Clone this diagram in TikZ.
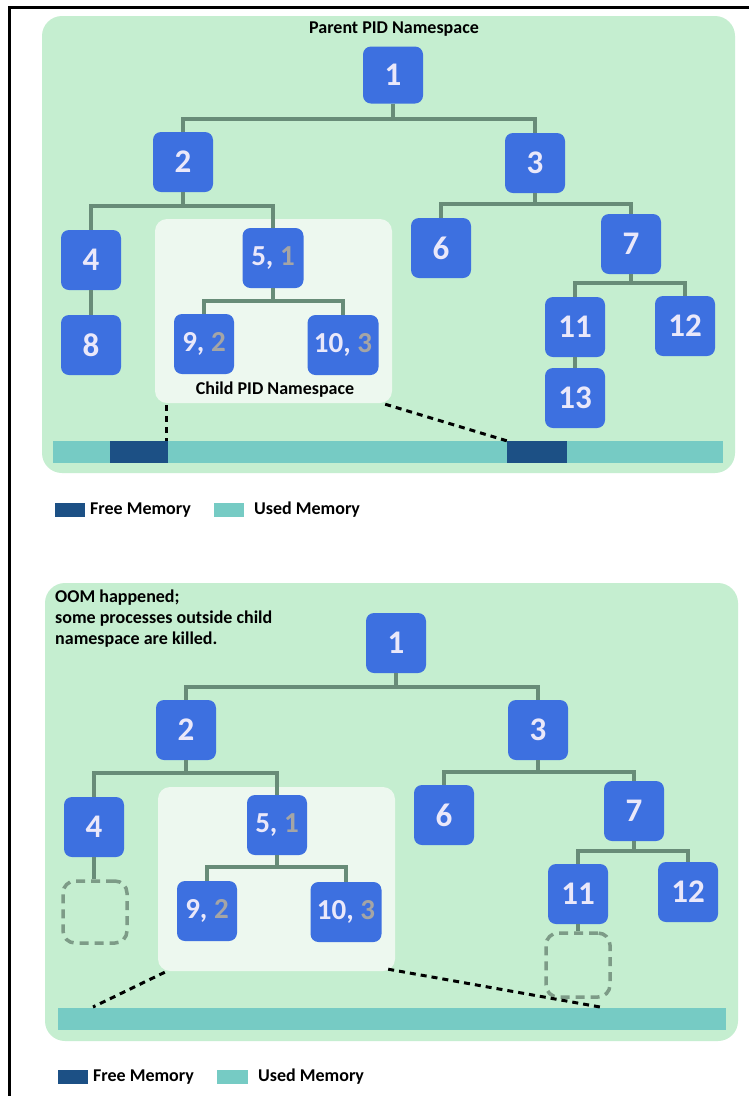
\documentclass[tikz,border=0pt]{standalone}
\usepackage{fontspec}
\setmainfont{Carlito}
\definecolor{panelgreen}{RGB}{197,238,208}
\definecolor{childfill}{RGB}{237,248,239}
\definecolor{nodeblue}{RGB}{61,112,224}
\definecolor{nodetext}{RGB}{234,232,250}
\definecolor{greynum}{RGB}{165,165,165}
\definecolor{conncol}{RGB}{104,140,120}
\definecolor{ghostcol}{RGB}{125,155,135}
\definecolor{usedmem}{RGB}{118,203,196}
\definecolor{freemem}{RGB}{28,80,133}
\tikzset{
  panel/.style={fill=panelgreen, rounded corners=20pt},
  childbox/.style={fill=childfill, rounded corners=12pt, inner sep=0pt},
  pnode/.style={fill=nodeblue, rounded corners=8pt, minimum width=60pt, minimum height=60pt, inner sep=0pt, text=nodetext, font=\bfseries\fontsize{33}{33}\selectfont},
  pairnode/.style={pnode, font=\bfseries\fontsize{29}{29}\selectfont},
  conn/.style={draw=conncol, line width=4pt},
  ghost/.style={draw=ghostcol, line width=3.5pt, dash pattern=on 9pt off 6pt, rounded corners=12pt, minimum width=61pt, minimum height=61pt, inner sep=0pt},
  blk/.style={line width=3pt, dash pattern=on 6pt off 5pt},
  lbl/.style={font=\bfseries\fontsize{18}{21}\selectfont, inner sep=0pt},
  membar/.style={fill=usedmem, inner sep=0pt, minimum height=22pt},
  freeblk/.style={fill=freemem, inner sep=0pt, minimum height=22pt},
  swatch/.style={inner sep=0pt, minimum width=30pt, minimum height=14pt},
}
\newcommand{\gr}[1]{\textcolor{greynum}{#1}}
\begin{document}
\begin{tikzpicture}[x=1pt,y=-1pt]
\useasboundingbox (0,0) rectangle (749,1096);
\fill[white] (0,0) rectangle (749,1096);
\draw[line width=3pt] (9,1096) -- (9,7) -- (749,7);

% ================= TOP PANEL =================
\fill[panel] (42,16) rectangle (735,473);
\node[lbl] (ptitle) at (394,29) {Parent PID Namespace};
\node[childbox, minimum width=237pt, minimum height=184pt] (cb1) at (273.5,311) {};
\node[lbl] (clabel1) at (275,390) {Child PID Namespace};

\node[pnode, minimum height=57pt] (t1) at (393,75) {1};
\node[pnode] (t2) at (183,162) {2};
\node[pnode] (t3) at (535,163) {3};
\node[pnode] (t4) at (91,260) {4};
\node[pnode] (t8) at (91,345) {8};
\node[pairnode, minimum width=61pt] (t5) at (273,258) {5, \gr{1}};
\node[pairnode] (t9) at (204,344) {9, \gr{2}};
\node[pairnode, minimum width=71pt] (t10) at (343,345) {10, \gr{3}};
\node[pnode] (t6) at (441,248) {6};
\node[pnode] (t7) at (631,244) {7};
\node[pnode] (t11) at (575,327) {11};
\node[pnode] (t12) at (685,326) {12};
\node[pnode] (t13) at (575,398) {13};

\coordinate (tj1) at (393,119);
\coordinate (tj2) at (183,206);
\coordinate (tj3) at (535,204);
\coordinate (tj5) at (273,301);
\coordinate (tj7) at (631,283);
\draw[conn] (t1.south) -- (tj1);
\draw[conn] (t2.north) |- (tj1) -| (t3.north);
\draw[conn] (t2.south) -- (tj2);
\draw[conn] (t4.north) |- (tj2) -| (t5.north);
\draw[conn] (t4.south) -- (t8.north);
\draw[conn] (t3.south) -- (tj3);
\draw[conn] (t6.north) |- (tj3) -| (t7.north);
\draw[conn] (t5.south) -- (tj5);
\draw[conn] (t9.north) |- (tj5) -| (t10.north);
\draw[conn] (t7.south) -- (tj7);
\draw[conn] (t11.north) |- (tj7) -| (t12.north);
\draw[conn] (t11.south) -- (t13.north);

\node[membar, minimum width=670pt] (mem1) at (388,452) {};
\node[freeblk, minimum width=58pt] (fb1) at (139,452) {};
\node[freeblk, minimum width=60pt] (fb2) at (537,452) {};
\draw[blk] (cb1.south -| fb1.north east) ++(-2,2) -- ([xshift=-2pt]fb1.north east);
\draw[blk] ([xshift=-7pt,yshift=-1pt]cb1.south east) -- (fb2.north west);

\node[swatch, fill=freemem] (lf1) at (70,510) {};
\node[lbl, anchor=west] (lft1) at (90,510) {Free Memory};
\node[swatch, fill=usedmem] (lu1) at (229,510) {};
\node[lbl, anchor=west] (lut1) at (254,510) {Used Memory};

% ================= BOTTOM PANEL =================
\fill[panel] (45,583) rectangle (738,1041);
\node[lbl, anchor=north west, align=left] (oom) at (55,590) {OOM happened;\\some processes outside child\\namespace are killed.};
\node[childbox, minimum width=237pt, minimum height=184pt] (cb2) at (276.5,879) {};

\node[pnode] (b1) at (396,643) {1};
\node[pnode] (b2) at (186,730) {2};
\node[pnode] (b3) at (538,730) {3};
\node[pnode] (b4) at (94,827) {4};
\node[ghost, minimum width=64pt, minimum height=62pt] (g4) at (95,912) {};
\node[pairnode] (b5) at (277,825) {5, \gr{1}};
\node[pairnode] (b9) at (207,911) {9, \gr{2}};
\node[pairnode, minimum width=71pt] (b10) at (346,912) {10, \gr{3}};
\node[pnode] (b6) at (444,815) {6};
\node[pnode] (b7) at (634,811) {7};
\node[pnode] (b11) at (578,894) {11};
\node[pnode] (b12) at (688,892) {12};
\node[ghost, minimum width=64pt, minimum height=64pt] (g11) at (578,965) {};

\coordinate (bj1) at (396,687);
\coordinate (bj2) at (186,773);
\coordinate (bj3) at (538,772);
\coordinate (bj5) at (277,867);
\coordinate (bj7) at (634,851);
\draw[conn] (b1.south) -- (bj1);
\draw[conn] (b2.north) |- (bj1) -| (b3.north);
\draw[conn] (b2.south) -- (bj2);
\draw[conn] (b4.north) |- (bj2) -| (b5.north);
\draw[conn] (b4.south) -- (b4.south |- g4.north);
\draw[conn] (b3.south) -- (bj3);
\draw[conn] (b6.north) |- (bj3) -| (b7.north);
\draw[conn] (b5.south) -- (bj5);
\draw[conn] (b9.north) |- (bj5) -| (b10.north);
\draw[conn] (b7.south) -- (bj7);
\draw[conn] (b11.north) |- (bj7) -| (b12.north);
\draw[conn] (b11.south) -- (g11.north);

\node[membar, minimum width=668pt] (mem2) at (392,1019) {};
\coordinate (m1) at (93,1007);
\coordinate (m2) at (600,1007);
\draw[blk] ([xshift=7pt,yshift=-1pt]cb2.south west) -- (m1);
\draw[blk] ([xshift=-7pt,yshift=2pt]cb2.south east) -- (m2);

\node[swatch, fill=freemem] (lf2) at (73,1077) {};
\node[lbl, anchor=west] (lft2) at (93,1077) {Free Memory};
\node[swatch, fill=usedmem, minimum width=31pt] (lu2) at (232.5,1077) {};
\node[lbl, anchor=west] (lut2) at (258,1077) {Used Memory};
\end{tikzpicture}
\end{document}
